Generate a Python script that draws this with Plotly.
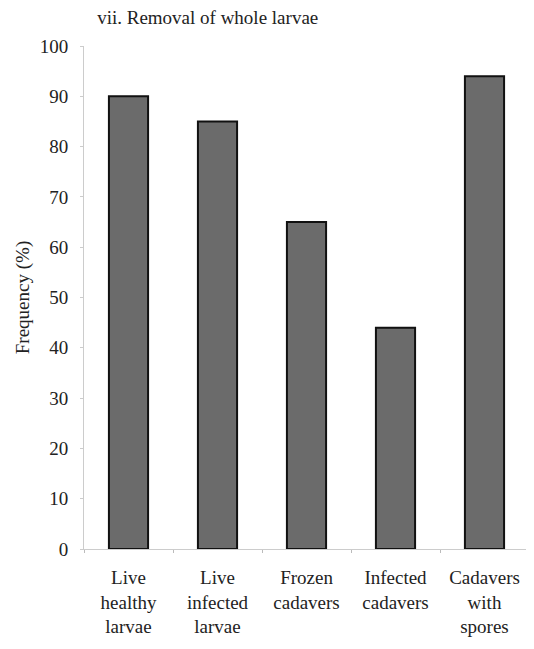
import plotly.graph_objects as go

categories = ["Live<br>healthy<br>larvae", "Live<br>infected<br>larvae", "Frozen<br>cadavers",
              "Infected<br>cadavers", "Cadavers<br>with<br>spores"]
frequency = [90, 85, 65, 44, 94]
y_ticks = list(range(0, 101, 10))

serif = "Liberation Serif"

fig = go.Figure(go.Bar(
    x=categories,
    y=frequency,
    marker=dict(color="#6b6b6b", line=dict(color="#111111", width=2)),
))

fig.update_layout(
    width=534, height=649,
    margin=dict(l=76, r=13, t=38, b=108),
    paper_bgcolor="white", plot_bgcolor="white",
    font=dict(family=serif, size=19, color="#222222"),
    bargap=0.56,
    showlegend=False,
    title=dict(text="vii. Removal of whole larvae", x=0.167, xanchor="left",
               y=0.985, yanchor="middle", font=dict(family=serif, size=19)),
)
fig.update_yaxes(
    range=[0, 100], tickvals=y_ticks, showgrid=False, automargin=False,
    showline=True, linecolor="#cccccc", linewidth=1,
    ticks="outside", ticklen=3, tickcolor="#cccccc", ticklabelstandoff=8,
    tickfont=dict(family=serif, size=19),
    title=dict(text="Frequency (%)", standoff=5, font=dict(family=serif, size=19)),
    zeroline=False,
)
fig.update_xaxes(
    showline=True, linecolor="#cccccc", linewidth=1, automargin=False,
    ticks="outside", ticklen=3, tickcolor="#bbbbbb", tickson="boundaries",
    tickangle=0, showgrid=False, ticklabelstandoff=11,
    tickfont=dict(family=serif, size=19),
)

fig.write_html("out.html")
